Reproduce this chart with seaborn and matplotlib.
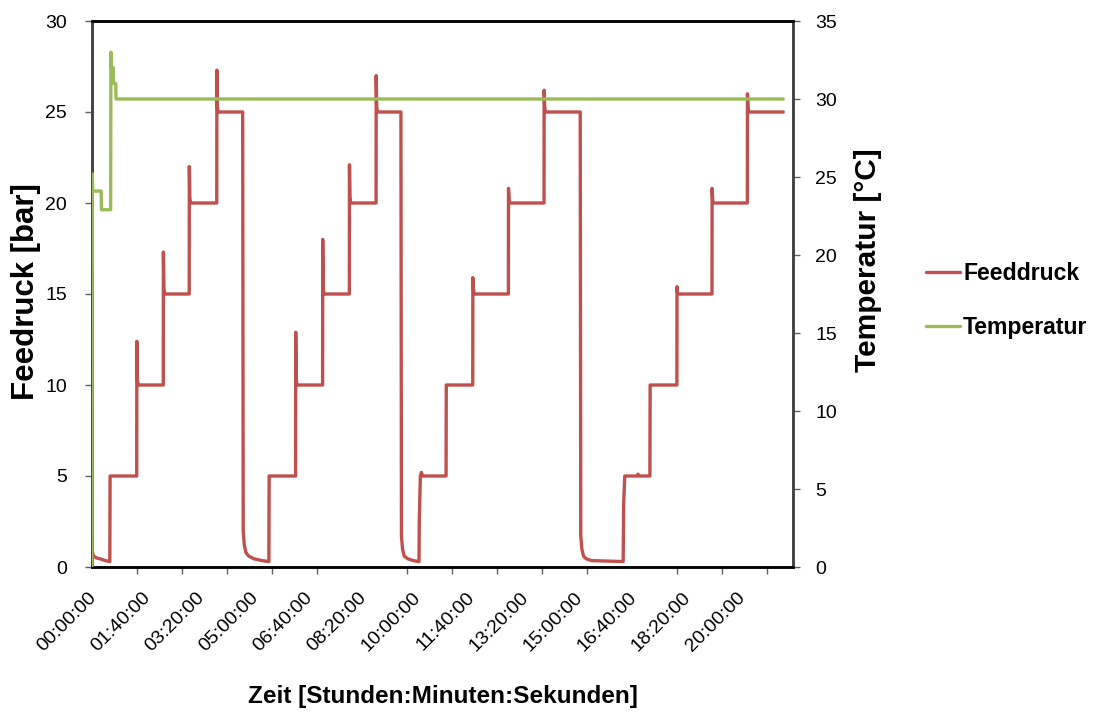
import numpy as np
import pandas as pd
import matplotlib
matplotlib.use("Agg")
import matplotlib.pyplot as plt
import matplotlib.transforms as mtransforms
from matplotlib.ticker import FixedLocator, MultipleLocator
import seaborn as sns

# ---------------- data (time in minutes since start) ----------------
druck_min = [0.5, 3, 8, 15, 25, 33,
             33.5, 82.8,
             83.0, 84.0, 85.5, 132.0,
             132.2, 133.2, 134.5, 180.0,
             180.2, 181.2, 182.5, 231.0,
             231.2, 232.2, 233.5, 279.0,
             280.0, 282.0, 285.0, 290.0, 300.0, 315.0, 327.5,
             328.0, 377.0,
             377.2, 378.2, 379.5, 427.0,
             427.2, 428.2, 429.5, 476.5,
             476.7, 477.7, 479.0, 526.0,
             526.2, 527.2, 528.5, 572.0,
             573.0, 575.0, 578.0, 585.0, 595.0, 605.5,
             606.0, 608.0, 610.0, 612.0, 655.6,
             656.0, 705.0,
             705.2, 706.2, 707.5, 771.0,
             771.2, 772.2, 773.5, 837.0,
             837.2, 838.2, 839.5, 904.0,
             905.0, 907.0, 910.0, 915.0, 925.0, 983.5,
             984.5, 986.5, 1010.0, 1011.0, 1013.0, 1033.0,
             1033.5, 1083.0,
             1083.2, 1084.0, 1085.5, 1148.0,
             1148.2, 1149.2, 1150.5, 1213.5,
             1213.7, 1214.7, 1216.0, 1280.0]
druck_bar = [0.85, 0.6, 0.5, 0.45, 0.35, 0.3,
             5.0, 5.0,
             12.4, 10.3, 10.0, 10.0,
             17.3, 15.3, 15.0, 15.0,
             22.0, 20.3, 20.0, 20.0,
             27.3, 25.3, 25.0, 25.0,
             2.0, 1.2, 0.8, 0.6, 0.45, 0.35, 0.3,
             5.0, 5.0,
             12.9, 10.3, 10.0, 10.0,
             18.0, 15.3, 15.0, 15.0,
             22.1, 20.3, 20.0, 20.0,
             27.0, 25.3, 25.0, 25.0,
             1.7, 1.0, 0.6, 0.45, 0.35, 0.3,
             2.5, 5.0, 5.2, 5.0, 5.0,
             10.0, 10.0,
             15.9, 15.3, 15.0, 15.0,
             20.8, 20.2, 20.0, 20.0,
             26.2, 25.3, 25.0, 25.0,
             1.7, 1.0, 0.6, 0.45, 0.35, 0.3,
             3.5, 5.0, 5.0, 5.1, 5.0, 5.0,
             10.0, 10.0,
             15.4, 15.1, 15.0, 15.0,
             20.8, 20.2, 20.0, 20.0,
             26.0, 25.3, 25.0, 25.0]

temp_min = [0.0, 0.5, 1.5, 17.0, 17.5, 34.5, 35.0, 36.0, 39.5, 40.0, 44.0, 44.5, 1280.0]
temp_c = [0.0, 25.2, 24.1, 24.1, 22.9, 22.9, 33.0, 32.0, 32.0, 31.0, 31.0, 30.0, 30.0]

tick_labels = ["00:00:00", "01:40:00", "03:20:00", "05:00:00", "06:40:00",
               "08:20:00", "10:00:00", "11:40:00", "13:20:00", "15:00:00",
               "16:40:00", "18:20:00", "20:00:00"]

series_names = ["Feeddruck", "Temperatur"]

RED = "#C0504D"
GREEN = "#9BBB59"

# ---------------- style ----------------
sns.set_style("white")
FONT = ["Liberation Sans", "DejaVu Sans"]
plt.rcParams["font.family"] = FONT
plt.rcParams["text.color"] = "black"
plt.rcParams["axes.labelcolor"] = "black"

fig = plt.figure(figsize=(11.01, 7.16), dpi=100)
ax = fig.add_axes([92 / 1101, 1 - 567 / 716, 701 / 1101, 546 / 716])
ax2 = ax.twinx()

df_p = pd.DataFrame({"t": druck_min, "v": druck_bar})
df_t = pd.DataFrame({"t": temp_min, "v": temp_c})
sns.lineplot(data=df_p, x="t", y="v", ax=ax, color=RED, lw=2.4,
             sort=False, estimator=None, legend=False, zorder=3)
sns.lineplot(data=df_t, x="t", y="v", ax=ax2, color=GREEN, lw=2.4,
             sort=False, estimator=None, legend=False, zorder=3)

ax.set_xlim(0, 1298)
ax.set_ylim(0, 30)
ax2.set_ylim(0, 35)
ax.set_yticks(range(0, 31, 5))
ax2.set_yticks(range(0, 36, 5))

def to_min(s):
    h, m, sec = (int(p) for p in s.split(":"))
    return h * 60 + m + sec / 60

label_pos = [to_min(s) for s in tick_labels]
ax.xaxis.set_major_locator(FixedLocator(label_pos))
ax.set_xticklabels(tick_labels, rotation=45, ha="right", va="center",
                   rotation_mode="anchor")
ax.xaxis.set_minor_locator(MultipleLocator(250 / 3))
ax.tick_params(axis="x", which="major", length=0, pad=20, labelsize=14,
               labelcolor="black")
ax.tick_params(axis="x", which="minor", direction="out", length=5, width=1,
               color="#606060", bottom=True)
offset = mtransforms.ScaledTranslation(2 / 100, 0, fig.dpi_scale_trans)
for lab in ax.get_xticklabels():
    lab.set_transform(lab.get_transform() + offset)

ax.tick_params(axis="y", direction="out", length=5, width=1, color="#606060",
               labelsize=14, pad=13, labelcolor="black")
ax2.tick_params(axis="y", direction="out", length=5, width=1, color="#606060",
                labelsize=14, pad=11, labelcolor="black")

for a in (ax, ax2):
    for side in ("left", "right"):
        a.spines[side].set_color("#404040")
        a.spines[side].set_linewidth(1.8)
    for side in ("top", "bottom"):
        a.spines[side].set_color("#000000")
        a.spines[side].set_linewidth(1.8)

ax.set_xlabel("Zeit [Stunden:Minuten:Sekunden]", fontsize=17.5,
              fontweight="bold", color="black")
ax.xaxis.label.set_va("center")
ax.xaxis.set_label_coords(0.5, -0.238)

ax.set_ylabel("Feedruck [bar]", fontsize=22.5, fontweight="bold", color="black")
ax.yaxis.label.set_va("center")
ax.yaxis.set_label_coords(-0.094, 0.504)

ax2.set_ylabel("Temperatur [°C]", fontsize=21.5, fontweight="bold", color="black")
ax2.yaxis.label.set_va("center")
ax2.yaxis.set_label_coords(1.107, 0.562)

handles = [ax.get_lines()[0], ax2.get_lines()[0]]
leg = fig.legend(handles, series_names, loc="upper left",
                 bbox_to_anchor=(926 / 1101, 1 - 262 / 716), frameon=False,
                 prop={"weight": "bold", "size": 16.6},
                 handlelength=1.48, handletextpad=0.13, labelspacing=1.35,
                 borderpad=0, borderaxespad=0)
for txt in leg.get_texts():
    txt.set_color("black")

fig.savefig("out.png", dpi=100)
